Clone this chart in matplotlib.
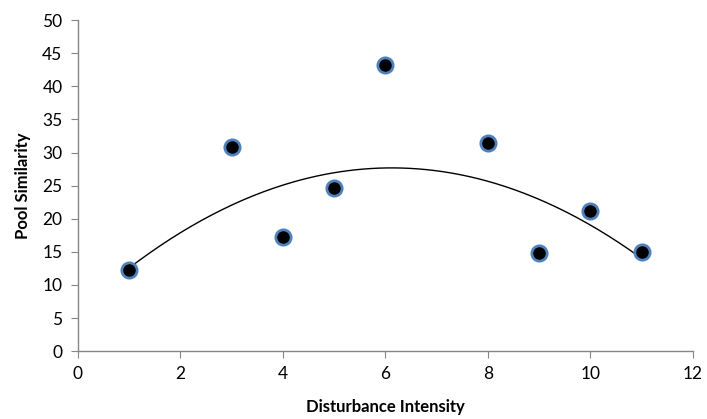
import numpy as np
import matplotlib
matplotlib.use("Agg")
import matplotlib.pyplot as plt

disturbance = [1, 3, 4, 5, 6, 8, 9, 10, 11]
similarity = [12.2, 30.8, 17.2, 24.6, 43.2, 31.4, 14.8, 21.1, 15.0]
# polynomial trendline (sample points along the curve)
trend_x = [1, 3, 6.19, 9, 11]
trend_y = [12.5, 22.2, 27.4, 23.2, 13.9]
xticks = [0, 2, 4, 6, 8, 10, 12]
yticks = [0, 5, 10, 15, 20, 25, 30, 35, 40, 45, 50]

plt.rcParams['font.family'] = ['Lato', 'DejaVu Sans']

fig = plt.figure(figsize=(7.07, 4.19), dpi=100)
ax = fig.add_axes([0.110, 0.162, 0.870, 0.790])

coef = np.polyfit(trend_x, trend_y, 2)
xs = np.linspace(min(trend_x), max(trend_x), 200)
ax.plot(xs, np.polyval(coef, xs), color='black', lw=1.0, zorder=2)

ax.plot(disturbance, similarity, 'o', ms=11, mfc='black', mec='#4F81BD', mew=2, zorder=3)

ax.set_xlim(0, 12)
ax.set_ylim(0, 50)
ax.set_xticks(xticks)
ax.set_yticks(yticks)
for s in ['top', 'right']:
    ax.spines[s].set_visible(False)
for s in ['left', 'bottom']:
    ax.spines[s].set_color('#868686')
    ax.spines[s].set_linewidth(1)
ax.tick_params(direction='out', length=5, color='#868686', labelsize=12.5, pad=6)
ax.set_xlabel('Disturbance Intensity', fontsize=12, fontweight='bold', labelpad=12)
ax.set_ylabel('Pool Similarity', fontsize=12, fontweight='bold', labelpad=8)

fig.savefig('out.png', dpi=100)
